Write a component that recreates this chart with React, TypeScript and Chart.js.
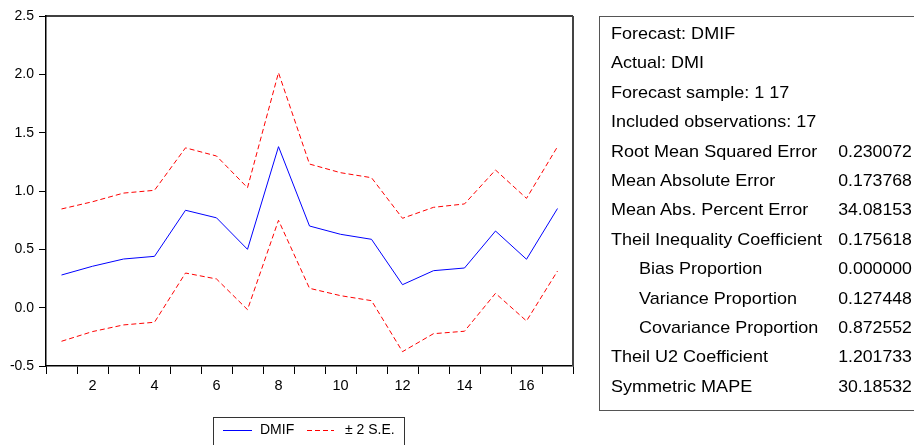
import React, { useEffect, useRef } from 'react';
import { Chart, registerables } from 'chart.js';

Chart.register(...registerables);

const categories = ['1', '2', '3', '4', '5', '6', '7', '8', '9', '10', '11', '12', '13', '14', '15', '16', '17'];
const dmif = [0.28, 0.355, 0.417, 0.44, 0.835, 0.77, 0.5, 1.38, 0.70, 0.629, 0.586, 0.197, 0.317, 0.34, 0.657, 0.415, 0.85];
const upperSE = [0.846, 0.908, 0.982, 1.006, 1.37, 1.30, 1.028, 2.014, 1.231, 1.157, 1.114, 0.766, 0.86, 0.889, 1.18, 0.937, 1.38];
const lowerSE = [-0.288, -0.205, -0.148, -0.125, 0.297, 0.246, -0.017, 0.749, 0.166, 0.103, 0.06, -0.377, -0.223, -0.202, 0.123, -0.114, 0.314];
const yMin = -0.5;
const yMax = 2.5;
const yStep = 0.5;

const statLabels = [
  'Forecast: DMIF',
  'Actual: DMI',
  'Forecast sample: 1 17',
  'Included observations: 17',
  'Root Mean Squared Error',
  'Mean Absolute Error',
  'Mean Abs. Percent Error',
  'Theil Inequality Coefficient',
  'Bias Proportion',
  'Variance Proportion',
  'Covariance Proportion',
  'Theil U2 Coefficient',
  'Symmetric MAPE',
];
const statValues = ['', '', '', '', '0.230072', '0.173768', '34.08153', '0.175618', '0.000000', '0.127448', '0.872552', '1.201733', '30.18532'];
const statIndented = [false, false, false, false, false, false, false, false, true, true, true, false, false];

const FONT = '"Liberation Sans", Arial, Helvetica, sans-serif';

export default function App() {
  const ref = useRef<HTMLCanvasElement>(null);

  useEffect(() => {
    if (!ref.current) return;
    const frame = {
      id: 'frame',
      afterDraw(chart: any) {
        const { ctx, chartArea } = chart;
        const { left, right, top, bottom } = chartArea;
        ctx.save();
        ctx.strokeStyle = '#000';
        ctx.lineWidth = 1.5;
        ctx.beginPath();
        ctx.moveTo(left, top);
        ctx.lineTo(right, top);
        ctx.stroke();
        ctx.strokeStyle = '#444';
        ctx.lineWidth = 2;
        ctx.beginPath();
        ctx.moveTo(right, top);
        ctx.lineTo(right, bottom);
        ctx.stroke();
        ctx.restore();
      },
    };
    const chart = new Chart(ref.current, {
      type: 'line',
      data: {
        labels: categories,
        datasets: [
          { label: 'DMIF', data: dmif, borderColor: '#0000ff', borderWidth: 1, pointRadius: 0, tension: 0, fill: false },
          { label: '+2 S.E.', data: upperSE, borderColor: '#ff0000', borderWidth: 1, borderDash: [5, 3], pointRadius: 0, tension: 0, fill: false },
          { label: '-2 S.E.', data: lowerSE, borderColor: '#ff0000', borderWidth: 1, borderDash: [5, 3], pointRadius: 0, tension: 0, fill: false },
        ],
      },
      options: {
        responsive: false,
        animation: false,
        events: [],
        layout: { padding: { top: 16, right: 27, left: 0, bottom: 0 } },
        plugins: { legend: { display: false }, tooltip: { enabled: false } },
        scales: {
          x: {
            type: 'category',
            offset: true,
            grid: { offset: true, drawOnChartArea: false, drawTicks: true, tickLength: 8, color: '#000', lineWidth: 1 },
            border: { display: true, color: '#000', width: 1.5 },
            ticks: {
              autoSkip: false,
              maxRotation: 0,
              minRotation: 0,
              padding: 3,
              color: '#000',
              font: { family: FONT, size: 14.5 },
              callback: (_v: any, i: number) => (i % 2 === 1 ? categories[i] : ''),
            },
            afterFit: (s: any) => { s.height = 79; },
          },
          y: {
            min: yMin,
            max: yMax,
            grid: { drawOnChartArea: false, drawTicks: true, tickLength: 7, color: '#000', lineWidth: 1 },
            border: { display: true, color: '#000', width: 1.5 },
            ticks: {
              stepSize: yStep,
              padding: 5,
              color: '#000',
              font: { family: FONT, size: 14 },
              callback: (v: any) => Number(v).toFixed(1),
            },
            afterFit: (s: any) => { s.width = 46; },
          },
        },
      },
      plugins: [frame],
    });
    return () => chart.destroy();
  }, []);

  const rowBaseline = (i: number) => 40 + 29.4 * i;
  const statFont = 17;

  return (
    <div style={{ position: 'fixed', left: 0, top: 0, width: 914, height: 445, background: '#fff', overflow: 'hidden', fontFamily: FONT }}>
      <canvas ref={ref} width={600} height={445} style={{ position: 'absolute', left: 0, top: 0, width: 600, height: 445 }} />

      {/* legend */}
      <div style={{ position: 'absolute', left: 213, top: 417, width: 192, height: 30, border: '1px solid #333', boxSizing: 'border-box' }} />
      <div style={{ position: 'absolute', left: 223, top: 430, width: 29, height: 0, borderTop: '1px solid #0000ff' }} />
      <div style={{ position: 'absolute', left: 260, top: 420.5, fontSize: 14, lineHeight: '16px', color: '#000', whiteSpace: 'nowrap' }}>DMIF</div>
      <svg style={{ position: 'absolute', left: 307, top: 427 }} width={27} height={6}>
        <line x1={0} y1={3.5} x2={27} y2={3.5} stroke="#ff0000" strokeWidth={1} strokeDasharray="5,3" />
      </svg>
      <div style={{ position: 'absolute', left: 345, top: 420.5, fontSize: 14, lineHeight: '16px', color: '#000', whiteSpace: 'nowrap' }}>± 2 S.E.</div>

      {/* statistics box */}
      <div style={{ position: 'absolute', left: 599, top: 16, width: 330, height: 395, border: '1px solid #555', boxSizing: 'border-box' }} />
      {statLabels.map((lab, i) => (
        <React.Fragment key={lab}>
          <div style={{ position: 'absolute', left: statIndented[i] ? 639 : 611, top: rowBaseline(i) - 16, fontSize: statFont, lineHeight: '20px', color: '#000', whiteSpace: 'nowrap', transform: 'scaleX(1.06)', transformOrigin: 'left center' }}>{lab}</div>
          {statValues[i] ? (
            <div style={{ position: 'absolute', right: 914 - 912, top: rowBaseline(i) - 16, fontSize: statFont, lineHeight: '20px', color: '#000', whiteSpace: 'nowrap', textAlign: 'right', transform: 'scaleX(1.04)', transformOrigin: 'right center' }}>{statValues[i]}</div>
          ) : null}
        </React.Fragment>
      ))}
    </div>
  );
}
